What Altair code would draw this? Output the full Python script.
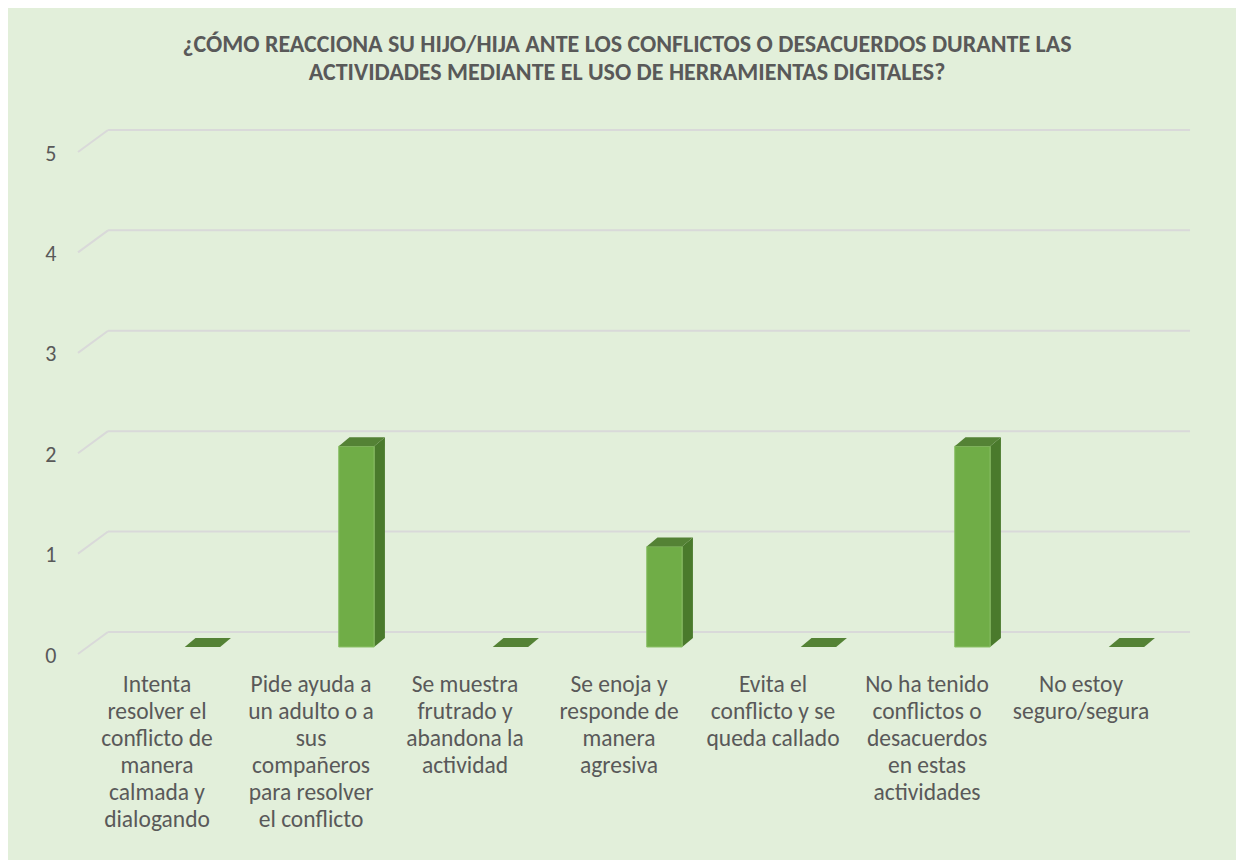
import altair as alt
import pandas as pd

# ---------------- data ----------------
categories = [
    "Intenta\nresolver el\nconflicto de\nmanera\ncalmada y\ndialogando",
    "Pide ayuda a\nun adulto o a\nsus\ncompañeros\npara resolver\nel conflicto",
    "Se muestra\nfrutrado y\nabandona la\nactividad",
    "Se enoja y\nresponde de\nmanera\nagresiva",
    "Evita el\nconflicto y se\nqueda callado",
    "No ha tenido\nconflictos o\ndesacuerdos\nen estas\nactividades",
    "No estoy\nseguro/segura",
]
values = [0, 2, 0, 1, 0, 2, 0]
y_ticks = [0, 1, 2, 3, 4, 5]
title_lines = [
    "¿CÓMO REACCIONA SU HIJO/HIJA ANTE LOS CONFLICTOS O DESACUERDOS DURANTE LAS",
    "ACTIVIDADES MEDIANTE EL USO DE HERRAMIENTAS DIGITALES?",
]

FONT = "Carlito, Calibri, Lato, sans-serif"
TXT = "#595959"

df = pd.DataFrame({"idx": list(range(len(categories))), "label": categories, "value": values})
df2 = df.merge(pd.DataFrame({"corner": [0, 1]}), how="cross")
grid = pd.DataFrame({"tick": y_ticks})

xs = alt.Scale(domain=[-0.5, len(categories) - 0.5], nice=False, zero=False)
ys = alt.Scale(domain=[0, 5], nice=False)
yaxis = alt.Axis(
    values=y_ticks, domain=False, ticks=False, grid=False, title=None,
    labelPadding=24, labelOffset=8, labelFontSize=22, labelColor=TXT, labelFont=FONT,
)

# 3D geometry (in scale units)
F0, F1 = 0.18, 0.41   # front face offsets from category centre
DX, DY = 0.07, 0.09   # depth shift

grid_color = "#D9D9D9"

slant = alt.Chart(grid).mark_rule(color=grid_color, strokeWidth=2).transform_calculate(
    gx1="-0.513", gx2="-0.318", gy1="datum.tick - 0.07", gy2="datum.tick + 0.15"
).encode(
    x=alt.X("gx1:Q", scale=xs, axis=None), x2="gx2:Q",
    y=alt.Y("gy1:Q", scale=ys, axis=yaxis), y2="gy2:Q",
)

back = alt.Chart(grid).mark_rule(color=grid_color, strokeWidth=2).transform_calculate(
    gx1="-0.318", gx2="6.708", gy="datum.tick + 0.15"
).encode(
    x=alt.X("gx1:Q", scale=xs, axis=None), x2="gx2:Q",
    y=alt.Y("gy:Q", scale=ys, axis=yaxis),
)

front = alt.Chart(df).transform_filter("datum.value > 0").transform_calculate(
    fx1=f"datum.idx + {F0}", fx2=f"datum.idx + {F1}", base="0"
).mark_bar(color="#70AD47", stroke="#8CC168", strokeWidth=1).encode(
    x=alt.X("fx1:Q", scale=xs, axis=None), x2="fx2:Q",
    y=alt.Y("value:Q", scale=ys, axis=yaxis), y2="base:Q",
)

side = alt.Chart(df2).transform_filter("datum.value > 0").transform_calculate(
    sx=f"datum.idx + {F1} + {DX} * datum.corner",
    sy=f"{DY} * datum.corner",
    sy2=f"datum.value + {DY} * datum.corner",
).mark_area(orient="vertical", color="#4A7A2C").encode(
    x=alt.X("sx:Q", scale=xs, axis=None),
    y=alt.Y("sy:Q", scale=ys, axis=yaxis, stack=None), y2="sy2:Q",
    detail="idx:N",
)

top = alt.Chart(df2).transform_calculate(
    ty=f"datum.value + {DY} * datum.corner",
    tx=f"datum.idx + {F0} + {DX} * datum.corner",
    tx2=f"datum.idx + {F1} + {DX} * datum.corner",
).mark_area(orient="horizontal", color="#548235").encode(
    y=alt.Y("ty:Q", scale=ys, axis=yaxis),
    x=alt.X("tx:Q", scale=xs, axis=None, stack=None), x2="tx2:Q",
    detail="idx:N",
)

labels = alt.Chart(df).mark_text(
    lineBreak="\n", fontSize=23.5, font=FONT, color=TXT, baseline="top", align="center", lineHeight=27,
).encode(
    x=alt.X("idx:Q", scale=xs, axis=None),
    y=alt.value(528),
    text="label:N",
)

chart = alt.layer(slant, back, side, front, top, labels).properties(
    width=1078,
    height=502,
    padding={"left": 72, "top": 137, "right": 78, "bottom": 213},
    autosize=alt.AutoSizeParams(type="none"),
    background="#E2EFDA",
    title=alt.TitleParams(
        text=title_lines, anchor="middle", fontSize=24, font=FONT, fontWeight="bold",
        color=TXT, lineHeight=28, offset=44, dx=8,
    ),
).configure_view(stroke=None)

chart.save("out.html", embed_options={"renderer": "svg", "actions": False})
